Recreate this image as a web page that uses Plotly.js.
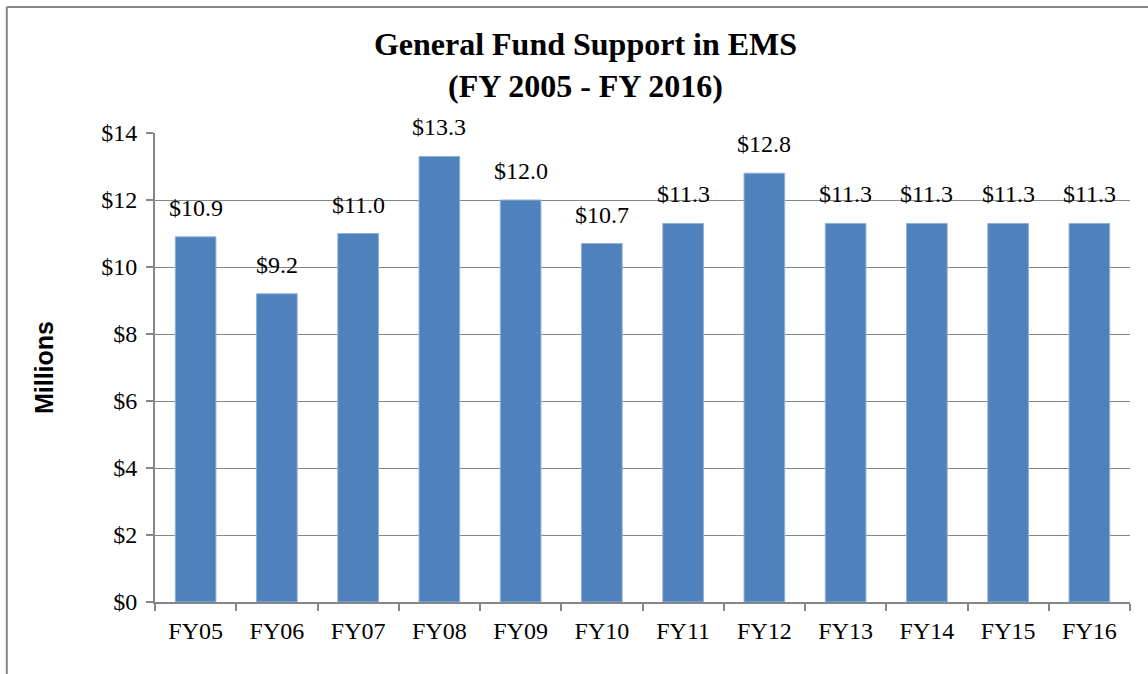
<!DOCTYPE html>
<html>
<head>
<meta charset="utf-8">
<script src="https://cdn.plot.ly/plotly-3.0.1.min.js"></script>
<style>
  body { margin: 0; background: #fff; }
  #chart { width: 1148px; height: 674px; }
</style>
</head>
<body>
<div id="chart"></div>
<script>
// fiscal years and general fund support ($ millions)
var years = ['FY05', 'FY06', 'FY07', 'FY08', 'FY09', 'FY10', 'FY11', 'FY12', 'FY13', 'FY14', 'FY15', 'FY16'];
var support = [10.9, 9.2, 11.0, 13.3, 12.0, 10.7, 11.3, 12.8, 11.3, 11.3, 11.3, 11.3];
var yTicks = [0, 2, 4, 6, 8, 10, 12, 14];

var serif = 'Times New Roman';
var gray = '#868686';

var bars = {
  x: years,
  y: support,
  type: 'bar',
  marker: { color: '#4F81BD', line: { color: '#8FB0DA', width: 1 } },
  hoverinfo: 'x+y'
};

// value labels sit a little above each bar, like the excel original
var labels = years.map(function (yr, i) {
  return {
    x: yr, y: support[i], xref: 'x', yref: 'y',
    text: '$' + support[i].toFixed(1),
    showarrow: false,
    yanchor: 'middle',
    yshift: 29,
    font: { family: serif, size: 24, color: '#000' }
  };
});

var layout = {
  width: 1148,
  height: 674,
  margin: { l: 155, r: 18, t: 133, b: 72 },
  paper_bgcolor: '#fff',
  plot_bgcolor: '#fff',
  showlegend: false,
  bargap: 0.5,
  font: { family: serif, color: '#000' },
  title: {
    text: 'General Fund Support in EMS<br>(FY 2005 - FY 2016)',
    font: { family: serif, size: 32, color: '#000', weight: 'bold' },
    x: 0.51,
    xanchor: 'center',
    xref: 'container',
    y: 0.918,
    yanchor: 'top'
  },
  xaxis: {
    type: 'category',
    showline: true,
    linecolor: gray,
    linewidth: 2,
    ticks: 'outside',
    tickson: 'boundaries',
    ticklen: 7,
    tickcolor: gray,
    tickwidth: 2,
    ticklabelstandoff: 6,
    tickfont: { family: serif, size: 24, color: '#000' },
    showgrid: false
  },
  yaxis: {
    range: [0, 14],
    tickvals: yTicks,
    ticktext: yTicks.map(function (v) { return '$' + v; }),
    showline: true,
    linecolor: gray,
    linewidth: 2,
    ticks: 'outside',
    ticklen: 7,
    tickcolor: gray,
    tickwidth: 2,
    ticklabelstandoff: 4,
    tickfont: { family: serif, size: 24, color: '#000' },
    gridcolor: gray,
    gridwidth: 1,
    zeroline: false,
    title: {
      text: 'Millions',
      font: { family: 'Liberation Sans', size: 25, color: '#000', weight: 'bold' },
      standoff: 40
    }
  },
  annotations: labels,
  shapes: [
    { type: 'line', xref: 'paper', yref: 'paper', x0: -0.152, x1: 1.05, y0: 1.2687, y1: 1.2687,
      line: { color: gray, width: 2 } },
    { type: 'line', xref: 'paper', yref: 'paper', x0: -0.152, x1: -0.152, y0: 1.2687, y1: -0.2,
      line: { color: gray, width: 2 } }
  ]
};

Plotly.newPlot('chart', [bars], layout, { displayModeBar: false });
</script>
</body>
</html>
